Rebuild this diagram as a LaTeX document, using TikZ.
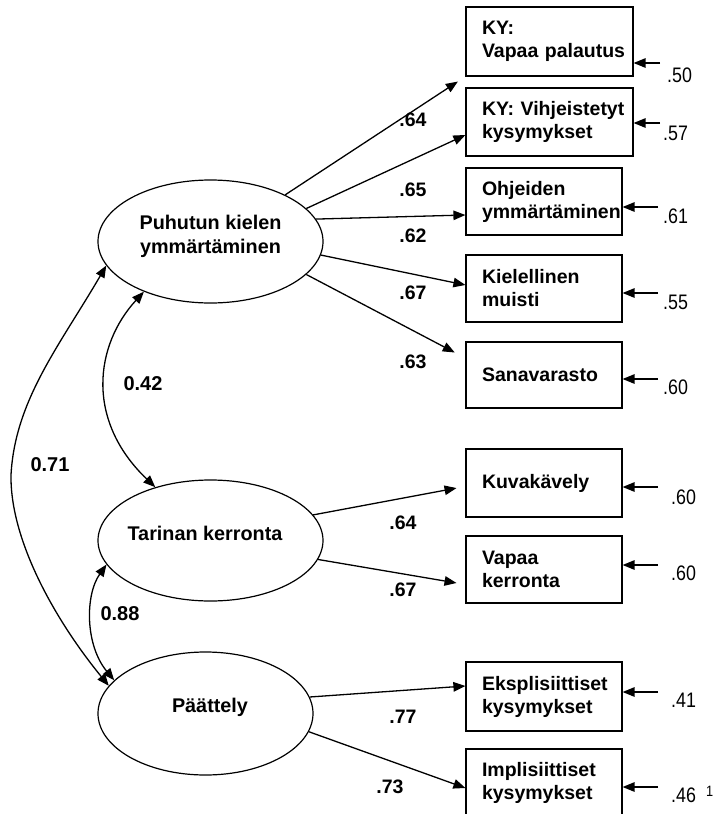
\documentclass[tikz,border=0pt]{standalone}
\usepackage{fontspec}
\setmainfont{Liberation Sans}
\newfontfamily\narrowf[FakeStretch=0.85]{Liberation Sans}
\usetikzlibrary{arrows.meta,calc,shapes.geometric}
\begin{document}
\begin{tikzpicture}[x=1pt,y=-1pt,
  every node/.style={inner sep=0pt},
  latent/.style={draw, ellipse, line width=1.2pt},
  latxt/.style={align=center, font=\bfseries\fontsize{19.8}{24}\selectfont},
  obs/.style={draw, rectangle, line width=1.2pt, align=left, inner xsep=16pt, inner ysep=0pt,
              font=\bfseries\fontsize{19.5}{23}\selectfont},
  load/.style={font=\bfseries\fontsize{19.5}{21}\selectfont},
  corr/.style={font=\bfseries\fontsize{20}{22}\selectfont},
  err/.style={anchor=west, font=\narrowf\fontsize{21}{23}\selectfont},
  arr/.style={-{Triangle[length=12pt,width=9.5pt]}, line width=1.3pt},
  darr/.style={{Triangle[length=12pt,width=9.5pt]}-{Triangle[length=12pt,width=9.5pt]}, line width=1.3pt}
]
\useasboundingbox (0,0) rectangle (714,814);
\clip (0,0) rectangle (714,814);

% latent variables
\node[latent, minimum width=225pt, minimum height=123pt] (e1) at (210.5,241.5) {};
\node[latent, minimum width=225pt, minimum height=121pt] (e2) at (210.5,540.5) {};
\node[latent, minimum width=215pt, minimum height=123pt] (e3) at (205.5,713.5) {};
\node[latxt] (t1) at (210.5,236) {Puhutun kielen\\ymmärtäminen};
\node[latxt] (t2) at (205,533) {Tarinan kerronta};
\node[latxt] (t3) at (210,707) {Päättely};

% observed variables
\node[obs, text width=135pt, minimum height=69pt] (b1) at (549.5,41.5) {\mbox{KY:}\\\mbox{Vapaa palautus}};
\node[obs, text width=135pt, minimum height=68pt] (b2) at (549.5,122) {\mbox{KY: Vihjeistetyt}\\\mbox{kysymykset}};
\node[obs, text width=124pt, minimum height=67pt] (b3) at (544,201.5) {\mbox{Ohjeiden}\\\mbox{ymmärtäminen}};
\node[obs, text width=124pt, minimum height=67pt] (b4) at (544,288.5) {\mbox{Kielellinen}\\\mbox{muisti}};
\node[obs, text width=124pt, minimum height=66pt] (b5) at (544,375) {\mbox{Sanavarasto}};
\node[obs, text width=124pt, minimum height=68pt] (b6) at (544,483) {\mbox{Kuvakävely}};
\node[obs, text width=124pt, minimum height=67pt] (b7) at (544,569.5) {\mbox{Vapaa}\\\mbox{kerronta}};
\node[obs, text width=124pt, minimum height=69pt] (b8) at (544,696.5) {\mbox{Eksplisiittiset}\\\mbox{kysymykset}};
\node[obs, text width=124pt, minimum height=68pt] (b9) at (544,783) {\mbox{Implisiittiset}\\\mbox{kysymykset}};

% loadings
\draw[arr, shorten >=9pt] (e1.32) -- (b1.south west);
\draw[arr] (e1.19.3) -- ([yshift=-13pt]b2.west);
\draw[arr] (e1.12.3) -- ([yshift=-13.5pt]b3.west);
\draw[arr] (e1.-7.5) -- ([yshift=3.5pt]b4.west);
\draw[arr, shorten >=12pt] (e1.-19.7) -- ([yshift=-16.7pt]b5.north west);
\draw[arr, shorten >=9pt] (e2.14.7) -- ([yshift=-3.4pt]b6.west);
\draw[arr, shorten >=9pt] (e2.-10.3) -- ([yshift=-15pt]b7.west);
\draw[arr] (e3.9.4) -- ([yshift=10.5pt]b8.west);
\draw[arr] (e3.-10.2) -- ([yshift=-5pt]b9.west);

\node[load] (l1) at (413,120) {.64};
\node[load] (l2) at (413,190) {.65};
\node[load] (l3) at (413,236) {.62};
\node[load] (l4) at (413,293) {.67};
\node[load] (l5) at (413,362) {.63};
\node[load] (l6) at (403,523) {.64};
\node[load] (l7) at (403,590) {.67};
\node[load] (l8) at (403,717) {.77};
\node[load] (l9) at (390,787) {.73};

% correlations
\draw[darr] (e1.-143) .. controls (95,345) and (85,420) .. (e2.136.4);
\draw[darr] (e1.-167) .. controls (60,345) and (15,400) .. (11,475)
                      .. controls (10,540) and (55,620) .. (e3.164);
\draw[darr] (e2.-167.7) .. controls (85,595) and (85,645) .. (e3.160.7);
\node[corr] (c42) at (143,384) {0.42};
\node[corr] (c71) at (50,465) {0.71};
\node[corr] (c88) at (120,614) {0.88};

% error terms
\coordinate (r1) at (660,63);
\coordinate (r2) at (660,123);
\coordinate (r3) at (658,207);
\coordinate (r4) at (658,293);
\coordinate (r5) at (658,379);
\coordinate (r6) at (658,487);
\coordinate (r7) at (658,565);
\coordinate (r8) at (658,692);
\coordinate (r9) at (658,787);
\draw[arr] (r1) -- (b1.east |- r1);
\draw[arr] (r2) -- (b2.east |- r2);
\draw[arr] (r3) -- (b3.east |- r3);
\draw[arr] (r4) -- (b4.east |- r4);
\draw[arr] (r5) -- (b5.east |- r5);
\draw[arr] (r6) -- (b6.east |- r6);
\draw[arr] (r7) -- (b7.east |- r7);
\draw[arr] (r8) -- (b8.east |- r8);
\draw[arr] (r9) -- (b9.east |- r9);
\node[err] (v1) at (667,75) {.50};
\node[err] (v2) at (663,133) {.57};
\node[err] (v3) at (663,216) {.61};
\node[err] (v4) at (663,302) {.55};
\node[err] (v5) at (663,387) {.60};
\node[err] (v6) at (671,497) {.60};
\node[err] (v7) at (671,573) {.60};
\node[err] (v8) at (671,700) {.41};
\node[err] (v9) at (671,795) {.46};
\node[anchor=west, font=\narrowf\fontsize{15}{16}\selectfont] (sup) at (706,791) {1};
\end{tikzpicture}
\end{document}
